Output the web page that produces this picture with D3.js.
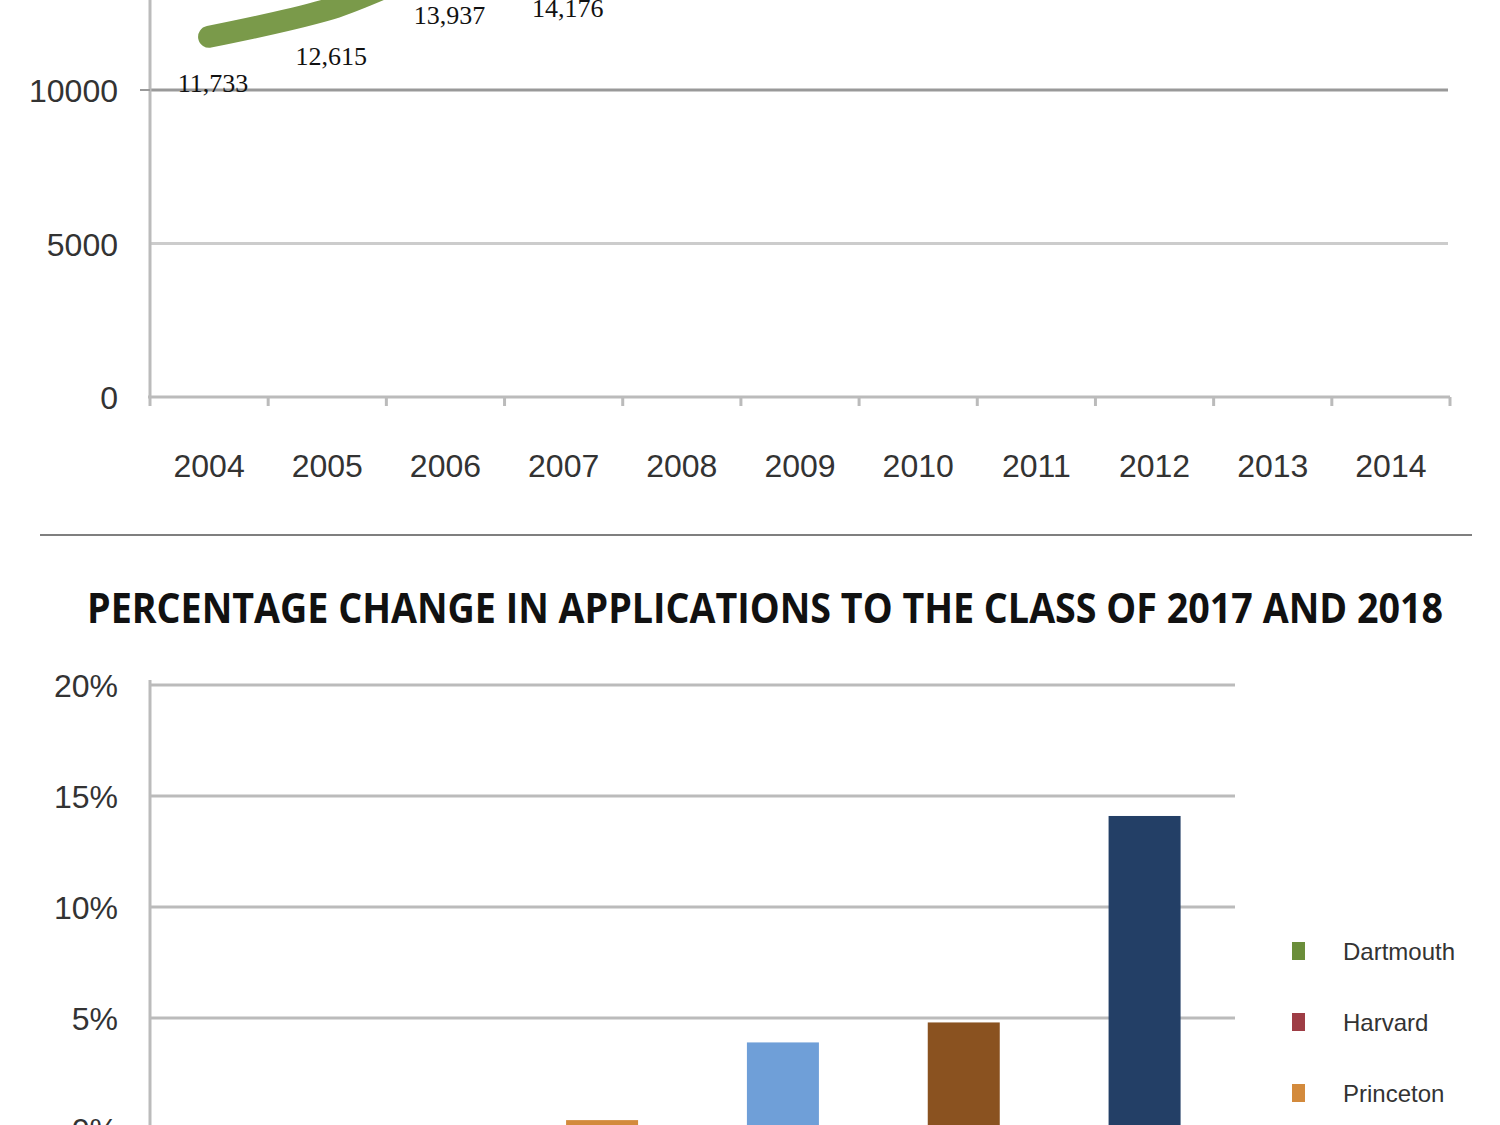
<!DOCTYPE html>
<html><head><meta charset="utf-8">
<script src="https://cdn.jsdelivr.net/npm/d3@7"></script>
<style>body{margin:0;background:#fff}</style></head>
<body><svg id="c" width="1500" height="1125"></svg>
<script>
const years=["2004","2005","2006","2007","2008","2009","2010","2011","2012","2013","2014"];
const applications=[11733,12615,13937,14176,16536,18130,18778,22385,23110,22416,19296];
const yTicksTop=[0,5000,10000];
const schools=["Dartmouth","Harvard","Princeton","Yale","Brown","Penn"];
const pctChange=[-14,-2,0.4,3.9,4.8,14.1];
const schoolColors=["#6b8e3a","#9e3d45","#d38a3c","#6f9fd8","#8a5220","#233f66"];
const pctTicks=[0,5,10,15,20];

const svg=d3.select("#c");
// top chart
const x1=d3.scaleBand().domain(years).range([150,1450]);
const y1=d3.scaleLinear().domain([0,10000]).range([397,90]);
const g1=svg.append("g");
yTicksTop.forEach(t=>{
  if(t>0) g1.append("line").attr("x1",150).attr("x2",1448).attr("y1",y1(t)).attr("y2",y1(t))
    .attr("stroke",t===10000?"#999":"#ccc").attr("stroke-width",3);
  g1.append("text").attr("x",118).attr("y",y1(t)+12).attr("text-anchor","end")
    .attr("font-family","Liberation Sans Narrow, Liberation Sans").attr("font-size",32).attr("fill","#333").text(t);
});
g1.append("line").attr("x1",150).attr("x2",150).attr("y1",0).attr("y2",397).attr("stroke","#bbb").attr("stroke-width",3);
g1.append("line").attr("x1",140).attr("x2",150).attr("y1",y1(10000)).attr("y2",y1(10000)).attr("stroke","#999").attr("stroke-width",2);
g1.append("line").attr("x1",148).attr("x2",1450).attr("y1",397).attr("y2",397).attr("stroke","#bbb").attr("stroke-width",3);
x1.domain().concat([null]).forEach((d,i)=>{
  const xx=150+i*x1.bandwidth();
  g1.append("line").attr("x1",xx).attr("x2",xx).attr("y1",397).attr("y2",406).attr("stroke","#bbb").attr("stroke-width",3);
});
years.forEach(yv=>g1.append("text").attr("x",x1(yv)+x1.bandwidth()/2).attr("y",477).attr("text-anchor","middle")
  .attr("font-family","Liberation Sans Narrow, Liberation Sans").attr("font-size",32).attr("fill","#333").text(yv));
// white backgrounds behind first label
const line=d3.line().x((d,i)=>x1(years[i])+x1.bandwidth()/2).y(d=>y1(d)).curve(d3.curveMonotoneX);
g1.append("path").datum(applications).attr("d",line).attr("fill","none").attr("stroke","#7a9a4a").attr("stroke-width",22).attr("stroke-linecap","round");
applications.forEach((v,i)=>{
  const tx=x1(years[i])+x1.bandwidth()/2+4, ty=y1(v)+55;
  const t=g1.append("text").attr("x",tx).attr("y",ty).attr("text-anchor","middle")
    .attr("font-family","Liberation Serif").attr("font-size",26).attr("fill","#111").text(d3.format(",")(v));
  if(i===0){g1.insert("rect","text").attr("x",tx-42).attr("y",ty-24).attr("width",88).attr("height",30).attr("fill","#fff");}
});
// separator
svg.append("line").attr("x1",40).attr("x2",1472).attr("y1",535).attr("y2",535).attr("stroke","#555").attr("stroke-width",1.5);
svg.append("text").attr("x",87).attr("y",623).attr("textLength",1356).attr("lengthAdjust","spacingAndGlyphs")
  .attr("font-family","Open Sans").attr("font-weight",700).attr("font-size",42).attr("fill","#111")
  .text("PERCENTAGE CHANGE IN APPLICATIONS TO THE CLASS OF 2017 AND 2018");
// bottom chart
const x2=d3.scaleBand().domain(schools).range([150,1235]);
const y2=d3.scaleLinear().domain([0,20]).range([1129,685]);
const g2=svg.append("g");
pctTicks.forEach(t=>{
  g2.append("line").attr("x1",150).attr("x2",1235).attr("y1",y2(t)).attr("y2",y2(t)).attr("stroke","#bbb").attr("stroke-width",3);
  g2.append("text").attr("x",118).attr("y",y2(t)+12).attr("text-anchor","end")
    .attr("font-family","Liberation Sans Narrow, Liberation Sans").attr("font-size",32).attr("fill","#333").text(t+"%");
});
g2.append("line").attr("x1",150).attr("x2",150).attr("y1",680).attr("y2",1125).attr("stroke","#bbb").attr("stroke-width",3);
schools.forEach((s,i)=>{
  const v=pctChange[i];
  g2.append("rect").attr("x",x2(s)+x2.bandwidth()/2-36).attr("width",72)
    .attr("y",y2(Math.max(v,0))).attr("height",Math.abs(y2(v)-y2(0))).attr("fill",schoolColors[i]);
});
schools.forEach((s,i)=>{
  const ly=952+i*71;
  g2.append("rect").attr("x",1292).attr("y",ly-10).attr("width",13).attr("height",18).attr("fill",schoolColors[i]);
  g2.append("text").attr("x",1343).attr("y",ly+8).attr("font-family","Liberation Sans Narrow, Liberation Sans")
    .attr("font-size",24).attr("fill","#333").text(s);
});
</script></body></html>
